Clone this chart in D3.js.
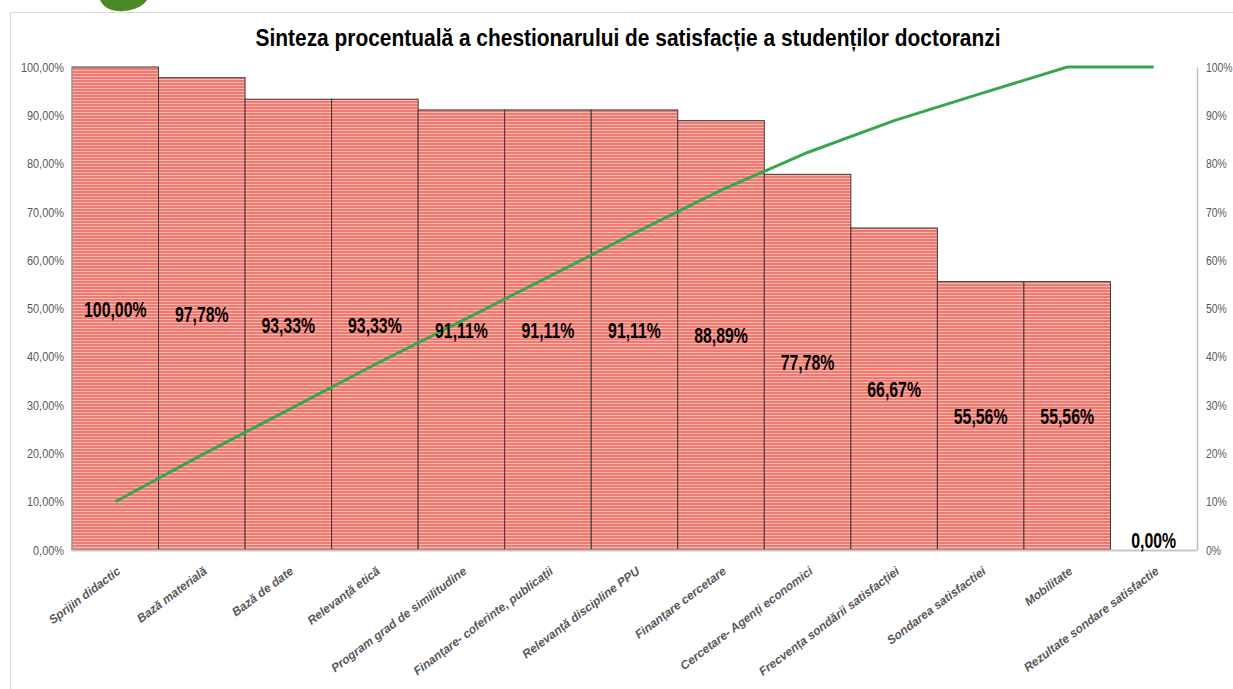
<!DOCTYPE html>
<html>
<head>
<meta charset="utf-8">
<script src="https://cdn.jsdelivr.net/npm/d3@7"></script>
<style>
  body { margin: 0; background: #fff; }
  svg { display: block; }
  text { font-family: "Liberation Sans", Arial, sans-serif; }
</style>
</head>
<body>
<svg id="chart" width="1233" height="689"></svg>
<script>
// categories + values
const categories = ["Sprijin didactic", "Bază materială", "Bază de date", "Relevanță etică",
    "Program grad de similitudine", "Finanțare- coferinte, publicații", "Relevanță discipline PPU",
    "Finanțare cercetare", "Cercetare- Agenți economici", "Frecvența sondării satisfacției",
    "Sondarea satisfactiei", "Mobilitate", "Rezultate sondare satisfactie"];
const values = [100, 97.78, 93.33, 93.33, 91.11, 91.11, 91.11, 88.89, 77.78, 66.67, 55.56, 55.56, 0];
const cumulative = [10, 19.7, 29.0, 38.4, 47.4, 56.5, 65.6, 74.5, 82.3, 88.9, 94.5, 100, 100];
const leftTicks = [0, 10, 20, 30, 40, 50, 60, 70, 80, 90, 100];
const rightTicks = [0, 10, 20, 30, 40, 50, 60, 70, 80, 90, 100];
const title = "Sinteza procentuală a chestionarului de satisfacție a studenților doctoranzi";

const svg = d3.select("#chart");
const margin = {top: 67, left: 72, right: 1197, bottom: 550};
const squeeze = 0.72; // no narrow font installed, so squash horizontally

const pct2 = d => d3.format(".2f")(d).replace(".", ",") + "%";

// outer frame + green decoration at the top
svg.append("rect")
    .attr("x", 10.5).attr("y", 12.5)
    .attr("width", 1240).attr("height", 700)
    .attr("fill", "none").attr("stroke", "#d9d9d9");

svg.append("path")
    .attr("d", "M100,0 C104,9 114,12 124,11 C136,10 144,5 147,0 Z")
    .attr("fill", "#4a8a25");

// striped fill for the bars
const defs = svg.append("defs");
const pat = defs.append("pattern")
    .attr("id", "stripes")
    .attr("patternUnits", "userSpaceOnUse")
    .attr("width", 6).attr("height", 3);
pat.append("rect").attr("width", 6).attr("height", 3).attr("fill", "#f07a70");
pat.append("rect").attr("y", 1).attr("width", 6).attr("height", 1).attr("fill", "#fbb8b1");

const x = d3.scaleBand()
    .domain(categories)
    .range([margin.left, margin.right])
    .padding(0);

const y = d3.scaleLinear()
    .domain([0, 100])
    .range([margin.bottom, margin.top]);

const y2 = d3.scaleLinear()
    .domain([0, 100])
    .range([margin.bottom, margin.top]);

// title
svg.append("text")
    .attr("x", 628).attr("y", 46)
    .attr("text-anchor", "middle")
    .attr("textLength", 745)
    .attr("lengthAdjust", "spacingAndGlyphs")
    .style("font-size", "23px")
    .style("font-weight", "bold")
    .attr("fill", "#000")
    .text(title);

// left axis (labels only)
const leftAxis = svg.append("g")
    .attr("transform", `translate(${margin.left},0)`)
    .call(d3.axisLeft(y).tickValues(leftTicks).tickSize(0).tickPadding(0)
        .tickFormat(pct2));
leftAxis.select(".domain").remove();
leftAxis.selectAll("text")
    .attr("x", null)
    .attr("transform", `translate(-8,0) scale(0.84,1)`)
    .style("font-size", "13px")
    .attr("fill", "#595959");

// right axis
const rightAxis = svg.append("g")
    .attr("transform", `translate(${margin.right},0)`)
    .call(d3.axisRight(y2).tickValues(rightTicks).tickSize(0).tickPadding(0)
        .tickFormat(d => d + "%"));
rightAxis.select(".domain").attr("stroke", "#bfbfbf").attr("stroke-width", 1.5);
rightAxis.selectAll("text")
    .attr("x", null)
    .attr("transform", `translate(9,0) scale(0.8,1)`)
    .style("font-size", "13px")
    .attr("fill", "#595959");

// bars
svg.append("g")
    .selectAll("rect")
    .data(values.map((v, i) => ({cat: categories[i], v: v})).filter(d => d.v > 0))
    .join("rect")
    .attr("x", d => x(d.cat))
    .attr("y", d => y(d.v))
    .attr("width", x.bandwidth())
    .attr("height", d => y(0) - y(d.v))
    .attr("fill", "url(#stripes)")
    .attr("stroke", "#3a3a3a")
    .attr("stroke-width", 1);

// bottom axis line
svg.append("line")
    .attr("x1", margin.left).attr("x2", margin.right)
    .attr("y1", y(0) + 0.5).attr("y2", y(0) + 0.5)
    .attr("stroke", "#c8c8c8").attr("stroke-width", 2);

// left edge of plot
svg.append("line")
    .attr("x1", margin.left).attr("x2", margin.left)
    .attr("y1", y(100)).attr("y2", y(0))
    .attr("stroke", "#bfbfbf").attr("stroke-width", 1);

// cumulative line
const line = d3.line()
    .x((d, i) => x(categories[i]) + x.bandwidth() / 2)
    .y(d => y2(d));

svg.append("path")
    .datum(cumulative)
    .attr("d", line)
    .attr("fill", "none")
    .attr("stroke", "#35a84f")
    .attr("stroke-width", 3);

// value labels
svg.append("g")
    .selectAll("text")
    .data(values)
    .join("text")
    .attr("transform", (d, i) => {
        const cx = x(categories[i]) + x.bandwidth() / 2;
        const cy = d > 0 ? (y(d) + y(0)) / 2 + 8 : y(0) - 2;
        return `translate(${cx},${cy}) scale(${squeeze},1)`;
    })
    .attr("text-anchor", "middle")
    .style("font-size", "22px")
    .style("font-weight", "bold")
    .attr("fill", "#000")
    .text(pct2);

// category labels, rotated
svg.append("g")
    .selectAll("text")
    .data(categories)
    .join("text")
    .attr("transform", d => `translate(${x(d) + x.bandwidth() / 2 + 1},${y(0) + 16}) rotate(-37)`)
    .attr("text-anchor", "end")
    .attr("dy", "0.7em")
    .style("font-size", "12px")
    .style("font-weight", "bold")
    .style("font-style", "italic")
    .attr("fill", "#595959")
    .text(d => d);
</script>
</body>
</html>
